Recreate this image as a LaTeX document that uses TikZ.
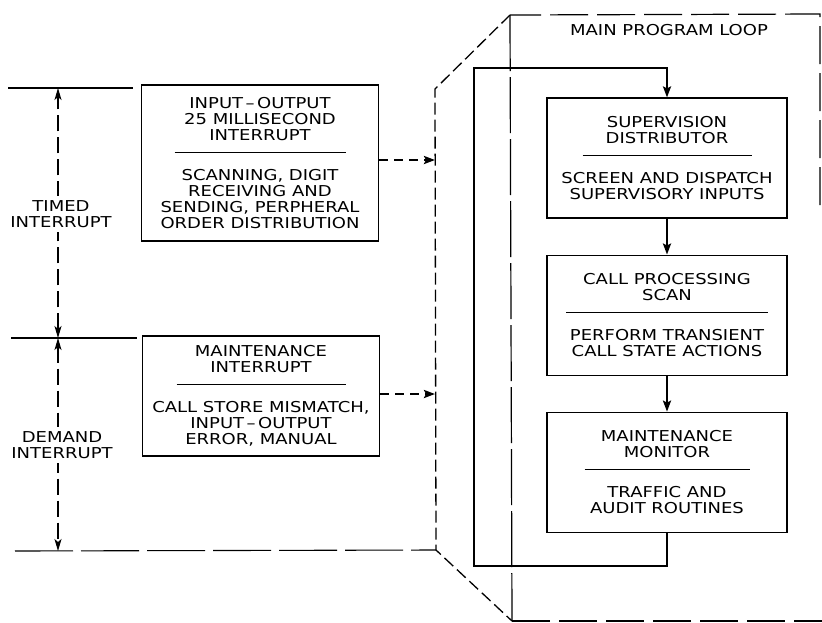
\documentclass[tikz,border=0pt]{standalone}
\usepackage{fontspec}
\usepackage{tikz}
\usetikzlibrary{arrows.meta, positioning}
\newfontfamily\lettering[FakeStretch=1.2]{DejaVu Sans}
\newcommand{\boxfont}{\lettering\fontsize{15pt}{16pt}\selectfont}
\newcommand{\divider}[1]{\\[-4pt]\rule{#1}{0.9pt}\\[12pt]}
\tikzstyle{block}=[rectangle, draw=black, line width=1.1pt, minimum width=240pt, minimum height=120pt, inner sep=0pt, align=center, font=\boxfont]
\tikzstyle{sidelabel}=[fill=white, inner sep=4pt, align=center, font=\boxfont]
\tikzstyle{flow}=[line width=2.6pt, -{Stealth[length=11pt, width=8pt, inset=2pt]}]
\tikzstyle{dasharrow}=[line width=2.4pt, dash pattern=on 9pt off 6pt, -{Stealth[length=11pt, width=8pt, inset=2pt]}]
\tikzstyle{dimline}=[line width=1.1pt, dash pattern=on 16pt off 6pt, {Stealth[length=12pt, width=7pt, inset=3pt]}-{Stealth[length=12pt, width=7pt, inset=3pt]}]
\tikzstyle{loopframe}=[line width=1.3pt, dash pattern=on 12pt off 5pt]
\tikzstyle{longdash}=[line width=1.2pt, dash pattern=on 38pt off 9pt]
\tikzstyle{innerdash}=[line width=1.2pt, dash pattern=on 56pt off 6pt]

\begin{document}
\begin{tikzpicture}[x=1pt, y=-1pt, node distance=36pt]
  \useasboundingbox (0,0) rectangle (822,622);
  % outline of the main program loop
  \coordinate (p1) at (510,15);
  \coordinate (p2) at (435,89);
  \coordinate (p3) at (436,550);
  \coordinate (p4) at (512,621);
  \draw[longdash] (820,205) -- (820,14) -- (p1);
  \draw[loopframe] (p1) -- (p2) -- (p3) -- (p4);
  \draw[longdash] (p4) -- (822,621);
  \draw[innerdash] (p1) -- (p4);
  \node[font=\boxfont] (title) at (669,30) {MAIN PROGRAM LOOP};

  % interrupt levels
  \coordinate (t1) at (58,88);
  \coordinate (t2) at (58,338);
  \coordinate (t3) at (58,551);
  \draw[line width=1.1pt] (8,88) -- (133,88);
  \draw[line width=1.1pt] (11,338) -- (137,338);
  \draw[line width=1.1pt, dash pattern=on 58pt off 8pt] (15,551) -- (p3);
  \draw[dimline] (t2) -- (t1);
  \draw[dimline] (t2) -- (t3);
  \node[sidelabel] (timed) at (61,214) {TIMED\\INTERRUPT};
  \node[sidelabel] (demand) at (62,445) {DEMAND\\INTERRUPT};

  \node[block, minimum width=237pt, minimum height=156pt] (io) at (260,163)
    {INPUT\,–\,OUTPUT\\25 MILLISECOND\\INTERRUPT\divider{171pt}SCANNING, DIGIT\\RECEIVING AND\\SENDING, PERPHERAL\\ORDER DISTRIBUTION};
  \node[block, minimum width=237pt] (maint) at (261,396)
    {MAINTENANCE\\INTERRUPT\divider{169pt}CALL STORE MISMATCH,\\INPUT\,–\,OUTPUT\\ERROR, MANUAL};

  % main loop
  \node[block] (sup) at (667,158) {SUPERVISION\\DISTRIBUTOR\divider{169pt}SCREEN AND DISPATCH\\SUPERVISORY INPUTS};
  \node[block] (scan) [below=of sup] {CALL PROCESSING\\SCAN\divider{202pt}PERFORM TRANSIENT\\CALL STATE ACTIONS};
  \node[block] (mon) [below=of scan] {MAINTENANCE\\MONITOR\divider{165pt}TRAFFIC AND\\AUDIT ROUTINES};
  \coordinate (lb) at (474,566);
  \coordinate (lt) at (474,68);
  \draw[flow] (sup) -- (scan);
  \draw[flow] (scan) -- (mon);
  \draw[flow] (mon.south) |- (lb) -- (lt) -| (sup.north);

  \draw[dasharrow] ([yshift=3pt]io.east) -- ([yshift=3pt]io.east -| p2);
  \draw[dasharrow] ([yshift=2pt]maint.east) -- ([yshift=2pt]maint.east -| p2);
\end{tikzpicture}
\end{document}
